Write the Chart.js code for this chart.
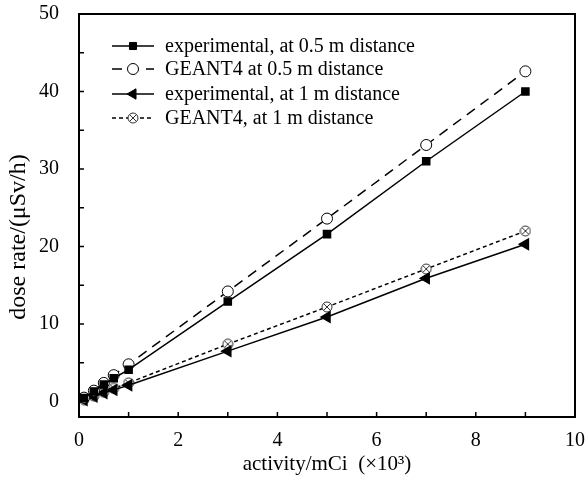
<!DOCTYPE html>
<html>
<head>
<meta charset="utf-8">
<script src="https://cdn.jsdelivr.net/npm/chart.js@4.4.1/dist/chart.umd.min.js"></script>
<style>
  html, body { margin: 0; padding: 0; background: #fff; }
  #wrap { width: 587px; height: 477px; position: relative; }
</style>
</head>
<body>
<div id="wrap"><canvas id="doseChart"></canvas></div>
<script>
// activity in units of 10^3 mCi
const activity = [0.1, 0.3, 0.5, 0.7, 1, 3, 5, 7, 9];

// dose rate, uSv/h
const exp05 = [0.45, 1.3, 2.2, 3.0, 4.1, 12.9, 21.6, 31.0, 40.0];
const geant05 = [0.5, 1.4, 2.4, 3.4, 4.8, 14.2, 23.6, 33.1, 42.6];
const exp1 = [0.2, 0.65, 1.1, 1.5, 2.1, 6.5, 10.9, 15.9, 20.3];
const geant1 = [0.25, 0.7, 1.2, 1.7, 2.4, 7.4, 12.2, 17.1, 22.0];

const seriesNames = [
    'experimental, at 0.5 m distance',
    'GEANT4 at 0.5 m distance',
    'experimental, at 1 m distance',
    'GEANT4, at 1 m distance'
];

const xTicks = [0, 1, 2, 3, 4, 5, 6, 7, 8, 9, 10];
const xTickLabels = ['0', '', '2', '', '4', '', '6', '', '8', '', '10'];
const yTicks = [0, 5, 10, 15, 20, 25, 30, 35, 40, 45, 50];
const yTickLabels = ['0', '', '10', '', '20', '', '30', '', '40', '', '50'];
const yTitle = 'dose rate/(μSv/h)';

const serif = "'Liberation Serif', 'DejaVu Serif', serif";

// circle with an x inside, for the GEANT4 1 m series
function crossCircle(r) {
    const c = document.createElement('canvas');
    c.width = c.height = r * 2 + 2;
    const g = c.getContext('2d');
    const m = r + 1;
    g.fillStyle = '#fff';
    g.strokeStyle = '#333';
    g.lineWidth = 1;
    g.beginPath();
    g.arc(m, m, r, 0, Math.PI * 2);
    g.fill();
    g.stroke();
    const d = r * 0.7;
    g.beginPath();
    g.moveTo(m - d, m - d); g.lineTo(m + d, m + d);
    g.moveTo(m + d, m - d); g.lineTo(m - d, m + d);
    g.stroke();
    return c;
}
const crossMark = crossCircle(5);

function toPoints(ys) {
    return activity.map((x, i) => ({ x: x, y: ys[i] }));
}

const datasets = [
    {
        label: seriesNames[0], data: toPoints(exp05),
        borderColor: '#000', borderWidth: 1.5,
        pointStyle: 'rect', pointRadius: 5, pointBackgroundColor: '#000', pointBorderColor: '#000'
    },
    {
        label: seriesNames[1], data: toPoints(geant05),
        borderColor: '#000', borderWidth: 1.5, borderDash: [10, 7],
        pointStyle: 'circle', pointRadius: 5.5, pointBackgroundColor: '#fff', pointBorderColor: '#000', pointBorderWidth: 1
    },
    {
        label: seriesNames[2], data: toPoints(exp1),
        borderColor: '#000', borderWidth: 1.5,
        pointStyle: 'triangle', pointRotation: -90, pointRadius: 6, pointBackgroundColor: '#000', pointBorderColor: '#000'
    },
    {
        label: seriesNames[3], data: toPoints(geant1),
        borderColor: '#000', borderWidth: 1.5, borderDash: [4, 3],
        pointStyle: crossMark, pointRadius: 5
    }
];

// frame, inward ticks, y title and hand drawn legend
const framePlugin = {
    id: 'frame',
    afterDraw(chart) {
        const ctx = chart.ctx;
        const a = chart.chartArea;
        const xs = chart.scales.x, ys = chart.scales.y;
        ctx.save();
        ctx.strokeStyle = '#000';
        ctx.lineWidth = 2;
        ctx.strokeRect(a.left, a.top, a.right - a.left, a.bottom - a.top);
        ctx.lineWidth = 1.5;
        ctx.beginPath();
        xTicks.forEach(v => {
            const px = xs.getPixelForValue(v);
            ctx.moveTo(px, a.bottom); ctx.lineTo(px, a.bottom - 5);
        });
        yTicks.forEach(v => {
            const py = ys.getPixelForValue(v);
            ctx.moveTo(a.left, py); ctx.lineTo(a.left + 5, py);
        });
        ctx.stroke();

        // y title, sits a bit below the middle of the axis
        ctx.save();
        ctx.translate(19, 237);
        ctx.rotate(-Math.PI / 2);
        ctx.font = '24px ' + serif;
        ctx.fillStyle = '#000';
        ctx.textAlign = 'center';
        ctx.textBaseline = 'middle';
        ctx.fillText(yTitle, 0, 0);
        ctx.restore();

        // legend
        const rows = [46, 69, 94, 118];
        ctx.font = '20px ' + serif;
        ctx.textBaseline = 'middle';
        chart.data.datasets.forEach((ds, i) => {
            const y = rows[i];
            ctx.strokeStyle = '#000';
            ctx.lineWidth = 1.5;
            ctx.setLineDash(ds.borderDash || []);
            ctx.beginPath();
            ctx.moveTo(112, y); ctx.lineTo(154, y);
            ctx.stroke();
            ctx.setLineDash([]);
            ctx.fillStyle = ds.pointBackgroundColor || '#000';
            ctx.strokeStyle = ds.pointBorderColor || '#000';
            ctx.lineWidth = ds.pointBorderWidth || 1;
            Chart.helpers.drawPoint(ctx, {
                pointStyle: ds.pointStyle,
                rotation: ds.pointRotation || 0,
                radius: ds.pointRadius,
                borderWidth: ds.pointBorderWidth || 1
            }, 133, y);
            ctx.fillStyle = '#000';
            ctx.fillText(ds.label, 165, y + 1);
        });
        ctx.restore();
    }
};

const config = {
    type: 'line',
    data: { datasets: datasets },
    options: {
        responsive: true,
        maintainAspectRatio: false,
        animation: false,
        layout: { padding: { top: 14, right: 12, left: 0, bottom: 0 } },
        plugins: { legend: { display: false }, tooltip: { enabled: false } },
        scales: {
            x: {
                type: 'linear', min: 0, max: 10,
                grid: { display: false },
                border: { display: false },
                afterBuildTicks: s => { s.ticks = xTicks.map(v => ({ value: v })); },
                afterFit: s => { s.height = 60; s.paddingLeft = 0; s.paddingRight = 0; },
                ticks: {
                    autoSkip: false, maxRotation: 0, padding: 4,
                    color: '#000', font: { family: serif, size: 20 },
                    callback: (v) => xTickLabels[xTicks.indexOf(v)]
                },
                title: {
                    display: true, text: 'activity/mCi  (×10³)',
                    color: '#000', font: { family: serif, size: 21 }, padding: { top: 0, bottom: 0 }
                }
            },
            y: {
                type: 'linear', min: -2, max: 50,
                grid: { display: false },
                border: { display: false },
                afterBuildTicks: s => { s.ticks = yTicks.map(v => ({ value: v })); },
                afterFit: s => { s.width = 79; s.paddingTop = 0; s.paddingBottom = 0; },
                ticks: {
                    autoSkip: false, padding: 12,
                    color: '#000', font: { family: serif, size: 20 },
                    callback: (v) => yTickLabels[yTicks.indexOf(v)]
                },
                title: { display: false }
            }
        }
    },
    plugins: [framePlugin]
};

new Chart(document.getElementById('doseChart').getContext('2d'), config);
</script>
</body>
</html>
